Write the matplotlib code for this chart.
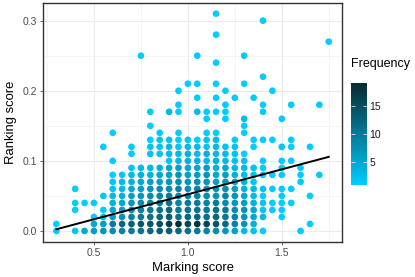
import numpy as np
import matplotlib
matplotlib.use("Agg")
import matplotlib.pyplot as plt
from matplotlib.colors import LinearSegmentedColormap, Normalize
from matplotlib.cm import ScalarMappable

# x grid (Marking score) and y grid (Ranking score, top row first)
marking = [0.30, 0.35, 0.40, 0.45, 0.50, 0.55, 0.60, 0.65, 0.70, 0.75,
           0.80, 0.85, 0.90, 0.95, 1.00, 1.05, 1.10, 1.15, 1.20, 1.25,
           1.30, 1.35, 1.40, 1.45, 1.50, 1.55, 1.60, 1.65, 1.70, 1.75]
ranking = [0.31, 0.30, 0.29, 0.28, 0.27, 0.26, 0.25, 0.24, 0.23, 0.22,
           0.21, 0.20, 0.19, 0.18, 0.17, 0.16, 0.15, 0.14, 0.13, 0.12,
           0.11, 0.10, 0.09, 0.08, 0.07, 0.06, 0.05, 0.04, 0.03, 0.02,
           0.01, 0.00]
# Frequency per cell: '.'=0, 1-9, A=10 ... J=19 (columns grouped by 5)
freq_rows = [
    "..... ..... ..... ..1.. ..... .....",  # 0.31
    "..... ..... ..... ..... ..1.. .....",  # 0.30
    "..... ..... ..... ..... ..... .....",  # 0.29
    "..... ..... ..... ..1.. ..... .....",  # 0.28
    "..... ..... ..... ..... ..... ....1",  # 0.27
    "..... ..... ..... ..... ..... .....",  # 0.26
    "..... ....1 ..... 1.... 1.... .....",  # 0.25
    "..... ..... ..... ..1.. ..... .....",  # 0.24
    "..... ..... ..... ..... ..... .....",  # 0.23
    "..... ..... ..... ..... ..1.. .....",  # 0.22
    "..... ..... ....1 1.1.. 1.... .....",  # 0.21
    "..... ..... ...1. ...1. ...1. .....",  # 0.20
    "..... ..... ..... 1.1.1 .1... .....",  # 0.19
    "..... ..... ...1. ...1. ..1.. 1..1.",  # 0.18
    "..... ..... 1.31. 3111. ..1.. .....",  # 0.17
    "..... ..... ..... .1.1. 3...1 .....",  # 0.16
    "..... ..... 1.... ..... 1.... .....",  # 0.15
    "..... .1... .1.1. .11.. 1.... .....",  # 0.14
    "..... ..... 12212 123.1 .111. 1....",  # 0.13
    "..... 1..1. 22323 32322 .1..2 1.1..",  # 0.12
    "..... ...1. 22334 34332 1.... .....",  # 0.11
    "..... .1... ..234 43432 2.1.1 1....",  # 0.10
    "..... ...23 34565 56453 321.1 .1...",  # 0.09
    "..... .1234 45676 67564 32111 .1.1.",  # 0.08
    "..... .2345 66787 87675 42... .1...",  # 0.07
    "..1.. .2356 78898 98786 43211 1....",  # 0.06
    "..... 13467 89A99 98797 531.1 ..1..",  # 0.05
    "..111 .4578 9AB9A A9A87 64211 1....",  # 0.04
    "..1.. 15689 ABCAB BABA8 75211 .....",  # 0.03
    "....1 2679A BCDBC CBCA9 753.1 .....",  # 0.02
    "1...5 6ACDE EFHJG IGEC9 74... ..1..",  # 0.01
    "1.256 789AB CDDCB A9876 321.. .1...",  # 0.00
]
# fitted trend line at the ends of the data range
fit_x = [0.30, 1.75]
fit_y = [0.0024, 0.1057]

def decode(ch):
    if ch == ".":
        return 0
    if ch.isdigit():
        return int(ch)
    return 10 + ord(ch) - ord("A")

xs, ys, fs = [], [], []
for yv, row in zip(ranking, freq_rows):
    cells = row.replace(" ", "")
    for xv, ch in zip(marking, cells):
        f = decode(ch)
        if f > 0:
            xs.append(xv); ys.append(yv); fs.append(f)
xs = np.array(xs); ys = np.array(ys); fs = np.array(fs)

cmap = LinearSegmentedColormap.from_list("freq", ["#00CCFF", "#0A2A30"])
norm = Normalize(vmin=1, vmax=19)

plt.rcParams["font.family"] = ["Liberation Sans", "DejaVu Sans"]
fig = plt.figure(figsize=(4.15, 2.77), dpi=100)
ax = fig.add_axes([0.103, 0.127, 0.722, 0.863])

order = np.argsort(fs)
ax.scatter(xs[order], ys[order], c=fs[order], cmap=cmap, norm=norm, s=23,
           linewidths=0, zorder=3)

ax.plot(fit_x, fit_y, color="black", lw=1.4, zorder=4)

ax.set_xlim(0.2275, 1.8225)
ax.set_ylim(-0.0155, 0.3255)
ax.set_xticks([0.5, 1.0, 1.5])
ax.set_xticklabels(["0.5", "1.0", "1.5"])
ax.set_yticks([0.0, 0.1, 0.2, 0.3])
ax.set_yticklabels(["0.0", "0.1", "0.2", "0.3"])
ax.set_xticks([0.25, 0.75, 1.25, 1.75], minor=True)
ax.set_yticks([0.05, 0.15, 0.25], minor=True)
ax.grid(which="major", color="#EBEBEB", lw=0.8, zorder=0)
ax.grid(which="minor", color="#F2F2F2", lw=0.5, zorder=0)
ax.set_axisbelow(True)
ax.tick_params(which="major", length=2.4, width=0.5, color="#333333",
               labelsize=7.5, labelcolor="#4D4D4D", pad=2)
ax.tick_params(which="minor", length=0)
for s in ax.spines.values():
    s.set_color("#333333"); s.set_linewidth(1.0)
ax.set_xlabel("Marking score", fontsize=9.4, labelpad=3)
ax.set_ylabel("Ranking score", fontsize=9.4, labelpad=4)

cax = fig.add_axes([0.845, 0.332, 0.0386, 0.367])
cb = fig.colorbar(ScalarMappable(norm=norm, cmap=cmap), cax=cax)
cb.outline.set_visible(False)
cb.set_ticks([5, 10, 15])
cax.tick_params(direction="in", length=3, width=0.5, color="white",
                left=True, right=True, labelsize=7.5, labelcolor="#1A1A1A", pad=2)
fig.text(0.845, 1 - 64 / 277, "Frequency", fontsize=9, ha="left", va="center")

fig.savefig("out.png", dpi=100)
